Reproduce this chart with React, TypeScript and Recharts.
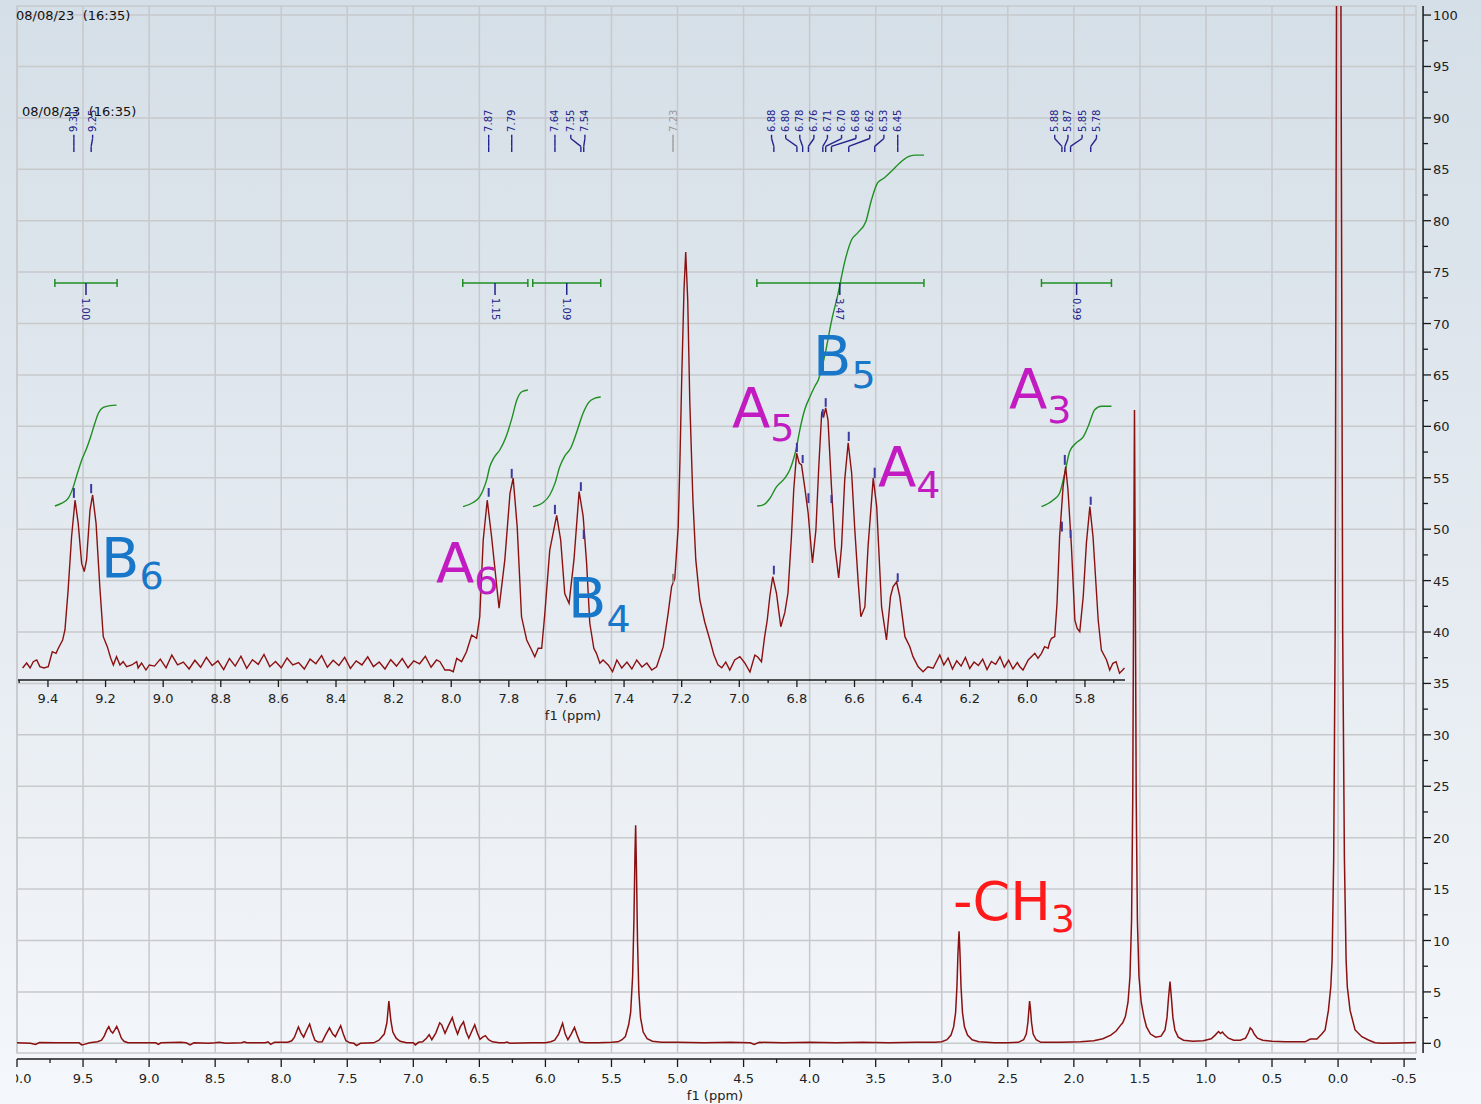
import React from "react";
import {
  ComposedChart,
  Line,
  XAxis,
  YAxis,
  CartesianGrid,
  ReferenceLine,
  ReferenceDot,
  ReferenceArea,
} from "recharts";

const FONT = "'DejaVu Sans', Verdana, sans-serif";
const RED = "#8b1111";
const NAVY = "#23238c";
const GREEN = "#1f8f23";
const GRID = "#c7c9cb";
const INK = "#1a1a1a";
const MAGENTA = "#c21bc2";
const BLUE = "#1877c9";

// main axis ticks
const mainMajorX = [10, 9.5, 9, 8.5, 8, 7.5, 7, 6.5, 6, 5.5, 5, 4.5, 4, 3.5, 3, 2.5, 2, 1.5, 1, 0.5, 0, -0.5];
const mainMinorX = [9.75, 9.25, 8.75, 8.25, 7.75, 7.25, 6.75, 6.25, 5.75, 5.25, 4.75, 4.25, 3.75, 3.25, 2.75, 2.25, 1.75, 1.25, 0.75, 0.25, -0.25];
const mainMajorY = [0, 5, 10, 15, 20, 25, 30, 35, 40, 45, 50, 55, 60, 65, 70, 75, 80, 85, 90, 95, 100];
const mainMinorY = [2.5, 7.5, 12.5, 17.5, 22.5, 27.5, 32.5, 37.5, 42.5, 47.5, 52.5, 57.5, 62.5, 67.5, 72.5, 77.5, 82.5, 87.5, 92.5, 97.5];

// inset axis ticks
const insetMajorX = [9.4, 9.2, 9.0, 8.8, 8.6, 8.4, 8.2, 8.0, 7.8, 7.6, 7.4, 7.2, 7.0, 6.8, 6.6, 6.4, 6.2, 6.0, 5.8];
const insetMinorX = [9.5, 9.3, 9.1, 8.9, 8.7, 8.5, 8.3, 8.1, 7.9, 7.7, 7.5, 7.3, 7.1, 6.9, 6.7, 6.5, 6.3, 6.1, 5.9, 5.7];

// full spectrum: [ppm, intensity]
const mainSpectrum: [number, number][] = [
  [10.0, 0.05], [9.9, 0.0], [9.86, -0.1], [9.83, 0.08], [9.7, 0.05], [9.6, 0.05], [9.53, 0.05], [9.51, -0.15],
  [9.49, -0.1], [9.45, 0.05], [9.39, 0.15], [9.36, 0.3], [9.34, 0.7], [9.32, 1.3], [9.305, 1.62], [9.29, 1.2],
  [9.275, 1.0], [9.26, 1.3], [9.245, 1.65], [9.23, 1.2], [9.21, 0.5], [9.19, 0.2], [9.16, 0.05], [9.05, 0.05],
  [8.95, 0.05], [8.93, -0.1], [8.91, 0.05], [8.76, 0.1], [8.72, 0.05], [8.69, -0.15], [8.66, 0.05], [8.55, 0.0],
  [8.5, 0.05], [8.47, 0.1], [8.42, 0.0], [8.3, 0.05], [8.28, 0.15], [8.26, 0.05], [8.12, 0.05], [8.1, 0.15],
  [8.08, -0.1], [8.05, 0.1], [7.95, 0.1], [7.92, 0.25], [7.9, 0.6], [7.87, 1.6], [7.85, 1.0], [7.83, 0.6],
  [7.81, 1.2], [7.785, 1.88], [7.765, 1.0], [7.745, 0.3], [7.72, 0.12], [7.69, 0.15], [7.665, 0.8], [7.635, 1.5],
  [7.61, 0.9], [7.59, 0.65], [7.57, 1.2], [7.55, 1.72], [7.53, 0.9], [7.51, 0.25], [7.48, 0.05], [7.45, 0.0],
  [7.43, -0.22], [7.4, 0.0], [7.3, 0.05], [7.26, 0.3], [7.22, 0.9], [7.2, 2.0], [7.185, 4.1], [7.17, 2.2],
  [7.155, 1.1], [7.13, 0.5], [7.1, 0.2], [7.05, 0.05], [7.0, 0.05], [6.985, -0.15], [6.96, 0.1], [6.93, 0.15],
  [6.9, 0.5], [6.88, 0.85], [6.86, 0.35], [6.83, 1.0], [6.8, 2.0], [6.785, 1.8], [6.76, 0.97], [6.735, 1.7],
  [6.705, 2.5], [6.685, 1.6], [6.665, 0.9], [6.645, 1.6], [6.62, 2.1], [6.6, 1.1], [6.58, 0.5], [6.56, 1.1],
  [6.535, 1.8], [6.515, 1.0], [6.495, 0.4], [6.475, 0.6], [6.455, 0.75], [6.43, 0.35], [6.4, 0.15], [6.35, 0.05],
  [6.31, 0.05], [6.29, 0.12], [6.27, 0.0], [6.1, 0.05], [6.0, 0.05], [5.96, 0.15], [5.93, 0.3], [5.9, 0.9],
  [5.87, 1.95], [5.85, 0.9], [5.83, 0.35], [5.805, 0.9], [5.78, 1.55], [5.76, 0.8], [5.74, 0.15], [5.7, 0.05],
  [5.6, 0.05], [5.5, 0.1], [5.45, 0.15], [5.42, 0.35], [5.395, 0.65], [5.37, 1.8], [5.355, 3.0], [5.34, 6.5],
  [5.33, 12.0], [5.322, 18.5], [5.317, 21.2], [5.311, 17.0], [5.303, 10.0], [5.293, 5.0], [5.28, 2.5], [5.26, 1.1],
  [5.23, 0.45], [5.19, 0.2], [5.12, 0.1], [5.0, 0.1], [4.8, 0.05], [4.6, 0.1], [4.45, 0.05], [4.42, -0.1],
  [4.38, 0.1], [4.2, 0.05], [4.0, 0.1], [3.8, 0.05], [3.6, 0.1], [3.4, 0.05], [3.2, 0.1], [3.05, 0.1],
  [3.0, 0.15], [2.96, 0.35], [2.93, 0.8], [2.91, 1.6], [2.895, 3.0], [2.885, 5.5], [2.877, 8.8], [2.869, 10.9],
  [2.862, 8.8], [2.854, 5.5], [2.843, 3.0], [2.828, 1.6], [2.805, 0.8], [2.77, 0.35], [2.72, 0.15], [2.6, 0.05],
  [2.5, 0.05], [2.42, 0.1], [2.38, 0.35], [2.36, 0.9], [2.348, 2.0], [2.34, 3.3], [2.335, 4.1], [2.328, 3.3],
  [2.32, 2.0], [2.308, 0.9], [2.285, 0.35], [2.25, 0.1], [2.1, 0.1], [1.95, 0.15], [1.85, 0.25], [1.78, 0.45],
  [1.72, 0.8], [1.68, 1.2], [1.65, 1.7], [1.63, 2.0], [1.61, 2.6], [1.59, 4.0], [1.575, 6.5], [1.563, 12],
  [1.554, 24], [1.547, 45], [1.541, 61.6], [1.535, 45], [1.528, 24], [1.519, 12], [1.507, 6.5], [1.49, 4.0],
  [1.47, 2.6], [1.45, 1.6], [1.42, 0.9], [1.38, 0.6], [1.34, 0.7], [1.31, 1.3], [1.295, 2.5], [1.283, 4.5],
  [1.272, 6.0], [1.262, 4.5], [1.25, 2.5], [1.235, 1.3], [1.21, 0.6], [1.17, 0.3], [1.1, 0.2], [1.02, 0.25],
  [0.96, 0.45], [0.93, 0.8], [0.905, 1.15], [0.89, 0.95], [0.875, 1.1], [0.86, 0.85], [0.83, 0.5], [0.79, 0.3],
  [0.74, 0.3], [0.7, 0.5], [0.68, 1.0], [0.665, 1.5], [0.65, 1.3], [0.635, 0.9], [0.61, 0.5], [0.57, 0.3],
  [0.5, 0.2], [0.4, 0.15], [0.3, 0.15], [0.25, 0.15], [0.21, 0.42], [0.16, 0.42], [0.123, 0.9], [0.098, 1.3],
  [0.073, 3.2], [0.055, 5.5], [0.045, 8.1], [0.033, 18], [0.022, 40], [0.012, 100], [-0.005, 400], [-0.022, 100],
  [-0.035, 40], [-0.048, 18], [-0.061, 8.1], [-0.07, 5.5], [-0.091, 3.2], [-0.129, 1.3], [-0.18, 0.64], [-0.23, 0.32],
  [-0.28, 0.06], [-0.33, 0.0], [-0.45, 0.03], [-0.59, 0.08],
];

// expanded aromatic region: [ppm, intensity]
const insetSpectrum: [number, number][] = [
  [9.488, 2.07], [9.474, 2.93], [9.462, 2.07], [9.451, 3.16], [9.439, 3.45], [9.428, 2.3], [9.414, 2.07], [9.399, 2.3],
  [9.385, 4.88], [9.372, 4.6], [9.364, 5.47], [9.349, 6.9], [9.341, 8.62], [9.33, 15.5], [9.318, 24.7], [9.306, 31.0],
  [9.295, 27.0], [9.283, 20.1], [9.274, 18.7], [9.266, 20.7], [9.254, 29.3], [9.245, 31.9], [9.233, 27.0], [9.22, 16.1],
  [9.208, 7.47], [9.194, 5.75], [9.182, 3.74], [9.173, 2.59], [9.162, 4.02], [9.15, 2.59], [9.139, 3.16], [9.127, 2.3],
  [9.109, 2.59], [9.092, 3.16], [9.087, 2.07], [9.075, 2.93], [9.06, 1.72], [9.048, 2.59],
  [9.03, 2.4], [9.01, 3.6], [8.99, 2.1], [8.97, 4.3], [8.95, 2.6], [8.93, 3.1], [8.91, 1.9], [8.89, 3.4],
  [8.87, 2.2], [8.85, 3.9], [8.83, 2.5], [8.81, 3.3], [8.79, 1.8], [8.77, 3.7], [8.75, 2.4], [8.73, 4.1],
  [8.71, 2.0], [8.69, 3.5], [8.67, 2.7], [8.65, 4.4], [8.63, 2.3], [8.61, 3.2], [8.59, 2.1], [8.57, 3.8],
  [8.55, 2.6], [8.53, 3.0], [8.51, 1.9], [8.49, 3.6], [8.47, 2.8], [8.45, 4.2], [8.43, 2.2], [8.41, 3.4],
  [8.39, 2.5], [8.37, 3.9], [8.35, 2.0], [8.33, 3.3], [8.31, 2.6], [8.29, 4.0], [8.27, 2.3], [8.25, 3.1],
  [8.23, 1.9], [8.21, 3.5], [8.19, 2.4], [8.17, 3.7], [8.15, 2.1], [8.13, 3.3], [8.11, 2.8], [8.09, 4.1],
  [8.07, 2.2], [8.051, 3.45], [8.039, 3.16], [8.022, 1.72], [8.005, 1.72], [7.993, 1.43], [7.981, 3.74], [7.964, 3.16],
  [7.947, 4.88], [7.929, 7.76], [7.912, 7.19], [7.901, 10.9], [7.889, 24.1], [7.875, 31.0], [7.86, 24.7], [7.834, 12.4],
  [7.814, 20.7], [7.796, 32.2], [7.785, 34.8], [7.771, 26.4], [7.756, 10.9], [7.738, 6.9], [7.724, 5.47], [7.71, 4.02],
  [7.698, 5.47], [7.686, 5.47], [7.675, 11.5], [7.658, 22.4], [7.634, 28.4], [7.62, 24.1], [7.606, 14.9], [7.591, 13.2],
  [7.574, 20.7], [7.556, 32.5], [7.542, 28.2], [7.53, 20.1], [7.519, 9.78], [7.505, 5.47], [7.496, 4.6], [7.484, 2.88],
  [7.473, 3.45], [7.455, 2.59], [7.44, 1.43], [7.425, 3.45], [7.408, 2.07], [7.39, 3.1], [7.373, 1.9], [7.356, 3.45],
  [7.338, 2.24], [7.321, 2.93], [7.304, 1.72], [7.287, 2.29], [7.264, 5.74], [7.247, 11.5], [7.235, 16.1], [7.224, 17.5],
  [7.212, 26.4], [7.206, 37.9], [7.2, 51.7], [7.192, 67.2], [7.186, 73.8], [7.179, 65.5], [7.172, 48.3], [7.161, 31.0],
  [7.151, 20.7], [7.137, 13.8], [7.12, 10.0], [7.102, 6.9], [7.088, 4.3], [7.074, 2.6], [7.061, 2.1], [7.047, 3.1],
  [7.033, 1.7], [7.016, 3.45], [6.998, 4.02], [6.981, 2.93], [6.963, 1.38], [6.946, 4.31], [6.936, 3.97], [6.923, 3.16],
  [6.912, 7.47], [6.903, 10.3], [6.894, 14.4], [6.884, 17.8], [6.871, 15.0], [6.856, 9.19], [6.842, 11.6], [6.831, 15.0],
  [6.819, 24.7], [6.811, 32.8], [6.801, 39.1], [6.792, 37.4], [6.784, 37.1], [6.773, 33.3], [6.761, 28.8], [6.746, 20.2],
  [6.734, 25.9], [6.724, 36.8], [6.714, 46.0], [6.707, 45.4], [6.7, 46.9], [6.692, 44.8], [6.68, 33.3], [6.668, 23.0],
  [6.655, 17.6], [6.645, 23.0], [6.634, 34.5], [6.622, 40.9], [6.61, 35.7], [6.599, 25.9], [6.587, 16.7], [6.578, 10.9],
  [6.564, 12.6], [6.553, 23.0], [6.535, 34.8], [6.523, 29.9], [6.506, 12.6], [6.489, 6.9], [6.475, 14.4], [6.466, 16.1],
  [6.454, 16.9], [6.443, 14.4], [6.425, 7.47], [6.408, 5.74], [6.397, 4.02], [6.379, 2.29], [6.362, 1.43], [6.345, 2.29],
  [6.327, 2.02], [6.304, 4.31], [6.29, 2.6], [6.275, 3.8], [6.26, 1.9], [6.245, 3.3], [6.23, 2.4], [6.215, 3.9],
  [6.2, 2.0], [6.185, 3.1], [6.17, 2.5], [6.155, 3.6], [6.14, 1.8], [6.125, 3.2], [6.11, 2.7], [6.095, 4.0],
  [6.08, 2.2], [6.065, 3.4], [6.05, 1.9], [6.035, 3.0], [6.026, 2.29], [6.015, 1.72], [5.997, 3.45], [5.974, 4.6],
  [5.963, 3.74], [5.951, 4.6], [5.94, 5.74], [5.928, 5.47], [5.922, 6.6], [5.916, 7.19], [5.905, 7.47], [5.897, 13.2],
  [5.888, 24.7], [5.876, 33.3], [5.867, 36.8], [5.859, 32.8], [5.847, 23.0], [5.835, 10.3], [5.827, 8.91], [5.818, 8.33],
  [5.806, 14.4], [5.795, 23.6], [5.783, 29.9], [5.772, 24.7], [5.754, 10.3], [5.743, 5.17], [5.725, 3.45], [5.714, 1.72],
  [5.703, 2.88], [5.692, 3.16], [5.68, 1.16], [5.669, 1.72], [5.663, 2.07],
];

// integral curves in the inset
const integralB6: [number, number][] = [
  [9.376, 30.0], [9.352, 30.5], [9.33, 31.3], [9.312, 33.3], [9.298, 35.6], [9.283, 37.9], [9.266, 39.9],
  [9.252, 41.9], [9.237, 44.3], [9.225, 46.0], [9.208, 47.0], [9.185, 47.3], [9.162, 47.4],
];
const integralA6: [number, number][] = [
  [7.959, 29.9], [7.924, 30.6], [7.901, 31.6], [7.889, 32.8], [7.877, 34.5], [7.866, 36.8], [7.852, 38.3],
  [7.831, 39.7], [7.81, 41.9], [7.789, 45.2], [7.772, 48.3], [7.755, 49.7], [7.734, 50.0],
];
const integralB4: [number, number][] = [
  [7.716, 29.9], [7.681, 30.6], [7.658, 31.9], [7.64, 33.9], [7.623, 36.8], [7.606, 38.6], [7.585, 40.0],
  [7.564, 42.8], [7.543, 45.9], [7.522, 47.9], [7.501, 48.6], [7.481, 48.8],
];
const integralMulti: [number, number][] = [
  [6.938, 30.0], [6.917, 30.2], [6.894, 31.3], [6.871, 33.3], [6.842, 34.8], [6.825, 36.2], [6.813, 37.9],
  [6.801, 40.2], [6.79, 43.1], [6.773, 46.6], [6.755, 48.8], [6.738, 50.6], [6.726, 51.7], [6.703, 56.0],
  [6.679, 62.1], [6.658, 66.4], [6.634, 72.1], [6.61, 75.9], [6.589, 77.1], [6.561, 79.0], [6.541, 82.8],
  [6.52, 85.7], [6.496, 86.6], [6.468, 87.9], [6.444, 89.1], [6.415, 90.2], [6.391, 90.5], [6.359, 90.5],
];
const integralA3: [number, number][] = [
  [5.951, 29.9], [5.911, 31.0], [5.888, 32.2], [5.87, 35.7], [5.853, 39.4], [5.83, 40.9], [5.806, 41.9],
  [5.789, 43.7], [5.766, 46.6], [5.743, 47.2], [5.708, 47.2],
];
const integralCurves = [integralB6, integralA6, integralB4, integralMulti, integralA3];
const integralValues = ["1.00", "1.15", "1.09", "3.47", "0.99"];
const integralFrom = [9.376, 7.96, 7.717, 6.939, 5.951];
const integralTo = [9.16, 7.734, 7.481, 6.359, 5.708];
const integralMid = [9.268, 7.848, 7.599, 6.651, 5.829];

// peak picking labels
const peakLabels = ["9.31", "9.25", "7.87", "7.79", "7.64", "7.55", "7.54", "7.23", "6.88", "6.80", "6.78",
  "6.76", "6.71", "6.70", "6.68", "6.62", "6.53", "6.45", "5.88", "5.87", "5.85", "5.78"];
const peakLabelAt = [9.31, 9.245, 7.87, 7.79, 7.64, 7.585, 7.536, 7.23, 6.888, 6.839, 6.79,
  6.741, 6.694, 6.645, 6.595, 6.547, 6.498, 6.45, 5.905, 5.859, 5.81, 5.76];
const peakMarkTop = [33.1, 33.8, 33.1, 36.4, 30.2, 34.1, 25.9, 18.3, 19.7, 40.9, 38.8,
  32.2, 46.7, 48.6, 31.9, 42.8, 36.6, 18.4, 27.3, 38.8, 25.9, 31.6];
const peakMarkBottom = [31.4, 32.2, 31.6, 34.8, 28.6, 32.6, 24.3, 16.7, 18.2, 39.3, 37.4,
  30.5, 45.3, 47.1, 30.5, 41.2, 34.8, 16.9, 25.6, 37.1, 24.5, 30.2];
const greyPeak = "7.23";

const toPts = (arr: [number, number][]) => arr.map(([x, y]) => ({ x, y }));

function MainXTick(props: any) {
  const { x, y, payload } = props;
  const v = payload.value;
  const major = mainMajorX.includes(v);
  const edge = v === 10;
  return (
    <g>
      {edge && (
        <defs>
          <clipPath id="leftEdgeClip">
            <rect x={x - 1} y={y} width={60} height={50} />
          </clipPath>
        </defs>
      )}
      <line x1={x} x2={x} y1={y + 6} y2={y + (major ? 14 : 10)} stroke={INK} strokeWidth={1.3} />
      {major && (
        <text
          x={x}
          y={y + 30}
          textAnchor="middle"
          fontSize={13}
          fontFamily={FONT}
          fill="#222"
          clipPath={edge ? "url(#leftEdgeClip)" : undefined}
        >
          {v.toFixed(1)}
        </text>
      )}
    </g>
  );
}

function MainYTick(props: any) {
  const { x, y, payload } = props;
  const v = payload.value;
  const major = mainMajorY.includes(v);
  return (
    <g>
      <line x1={x + 7} x2={x + (major ? 15 : 12)} y1={y} y2={y} stroke={INK} strokeWidth={1.3} />
      {major && (
        <text x={x + 17} y={y + 5} textAnchor="start" fontSize={13} fontFamily={FONT} fill="#222">
          {v}
        </text>
      )}
    </g>
  );
}

function InsetXTick(props: any) {
  const { x, y, payload } = props;
  const v = payload.value;
  const major = insetMajorX.includes(v);
  return (
    <g>
      <line x1={x} x2={x} y1={y} y2={y + (major ? 7 : 3)} stroke={INK} strokeWidth={1.3} />
      {major && (
        <text x={x} y={y + 23} textAnchor="middle" fontSize={13} fontFamily={FONT} fill="#222">
          {v.toFixed(1)}
        </text>
      )}
    </g>
  );
}

// big coloured assignment label with a subscript, as one text element
function Note(props: { x: number; y: number; text: string; sub: string; dy: number; size?: number; color: string }) {
  const { x, y, text, sub, dy, size = 56, color } = props;
  return (
    <text x={x} y={y} fill={color} fontFamily={FONT} fontSize={size}>
      {text}
      <tspan dy={dy} fontSize={38}>
        {sub}
      </tspan>
    </text>
  );
}

export default function App() {
  const mainTicksX = [...mainMajorX, ...mainMinorX].sort((a, b) => b - a);
  const mainTicksY = [...mainMajorY, ...mainMinorY].sort((a, b) => a - b);
  const insetTicksX = [...insetMajorX, ...insetMinorX].sort((a, b) => b - a);

  // leader line levels (inset intensity units)
  const LT = 94.0, K1 = 93.36, K2 = 92.0, LB = 91.03, TXT = 94.5;
  const BR = 68.45;

  return (
    <div
      style={{
        position: "absolute",
        left: 0,
        top: 0,
        width: 1481,
        height: 1104,
        overflow: "hidden",
        background: "linear-gradient(to bottom, #d5dfe7 0%, #e4eaf0 50%, #f4f7fb 100%)",
      }}
    >
      <div style={{ position: "absolute", left: 0, top: 0 }}>
        <ComposedChart width={1481} height={1104} margin={{ top: 6, right: 0, left: 17, bottom: 0 }}>
          <CartesianGrid
            stroke={GRID}
            strokeWidth={1.5}
            verticalValues={mainMajorX}
            horizontalValues={mainMajorY}
          />
          <ReferenceArea
            x1={-0.59}
            x2={10}
            y1={-0.94}
            y2={100.88}
            fill="none"
            stroke={GRID}
            strokeWidth={1.5}
            ifOverflow="visible"
          />
          <XAxis
            type="number"
            dataKey="x"
            domain={[-0.59, 10]}
            reversed
            allowDataOverflow
            ticks={mainTicksX}
            interval={0}
            height={51}
            tickSize={0}
            tickMargin={0}
            tickLine={false}
            axisLine={false}
            tick={(p: any) => <MainXTick {...p} />}
          />
          <YAxis
            type="number"
            orientation="right"
            domain={[-0.94, 100.88]}
            allowDataOverflow
            ticks={mainTicksY}
            interval={0}
            width={65}
            tickSize={0}
            tickMargin={0}
            tickLine={false}
            axisLine={false}
            tick={(p: any) => <MainYTick {...p} />}
          />
          <ReferenceLine
            segment={[{ x: 10, y: -1.527 }, { x: -0.59, y: -1.527 }]}
            stroke={INK}
            strokeWidth={1.5}
            ifOverflow="visible"
          />
          <ReferenceLine
            segment={[{ x: -0.6435, y: 100.88 }, { x: -0.6435, y: -0.94 }]}
            stroke={INK}
            strokeWidth={1.5}
            ifOverflow="visible"
          />
          <Line
            data={toPts(mainSpectrum)}
            dataKey="y"
            type="linear"
            stroke={RED}
            strokeWidth={1.5}
            dot={false}
            activeDot={false}
            isAnimationActive={false}
          />
        </ComposedChart>
      </div>

      <div style={{ position: "absolute", left: 0, top: 0 }}>
        <ComposedChart width={1140} height={730} margin={{ top: 100, right: 15, left: 18, bottom: 0 }}>
          <XAxis
            type="number"
            dataKey="x"
            domain={[5.661, 9.504]}
            reversed
            allowDataOverflow
            ticks={insetTicksX}
            interval={0}
            height={50}
            tickSize={0}
            tickMargin={0}
            tickLine={false}
            axisLine={{ stroke: INK, strokeWidth: 1.5 }}
            tick={(p: any) => <InsetXTick {...p} />}
          />
          <YAxis type="number" domain={[0, 100]} hide allowDataOverflow />

          {integralCurves.map((c, i) => (
            <Line
              key={"int" + i}
              data={toPts(c)}
              dataKey="y"
              type="monotone"
              stroke={GREEN}
              strokeWidth={1.4}
              dot={false}
              activeDot={false}
              isAnimationActive={false}
            />
          ))}

          <Line
            data={toPts(insetSpectrum)}
            dataKey="y"
            type="linear"
            stroke={RED}
            strokeWidth={1.4}
            dot={false}
            activeDot={false}
            isAnimationActive={false}
          />

          {/* integral brackets */}
          {integralValues.map((val, i) => (
            <React.Fragment key={"br" + i}>
              <ReferenceLine segment={[{ x: integralFrom[i], y: BR }, { x: integralTo[i], y: BR }]} stroke={GREEN} strokeWidth={1.5} />
              <ReferenceLine segment={[{ x: integralFrom[i], y: BR + 0.7 }, { x: integralFrom[i], y: BR - 0.7 }]} stroke={GREEN} strokeWidth={1.5} />
              <ReferenceLine segment={[{ x: integralTo[i], y: BR + 0.7 }, { x: integralTo[i], y: BR - 0.7 }]} stroke={GREEN} strokeWidth={1.5} />
              <ReferenceLine segment={[{ x: integralMid[i], y: BR }, { x: integralMid[i], y: 66.4 }]} stroke={NAVY} strokeWidth={1.5} />
              <ReferenceDot
                x={integralMid[i]}
                y={65.86}
                r={0}
                shape={(p: any) => (
                  <text
                    x={p.cx}
                    y={p.cy}
                    transform={`rotate(90 ${p.cx} ${p.cy})`}
                    textAnchor="start"
                    dominantBaseline="central"
                    fontSize={10}
                    fontFamily={FONT}
                    fill={NAVY}
                  >
                    {val}
                  </text>
                )}
              />
            </React.Fragment>
          ))}

          {/* peak labels with leader lines and marks */}
          {peakLabels.map((lab, i) => {
            const px = Number(lab);
            const at = peakLabelAt[i];
            const col = lab === greyPeak ? "#9a9a9a" : NAVY;
            return (
              <React.Fragment key={"pk" + i}>
                <ReferenceLine segment={[{ x: at, y: LT }, { x: at, y: K1 }]} stroke={col} strokeWidth={1.4} />
                <ReferenceLine segment={[{ x: at, y: K1 }, { x: px, y: K2 }]} stroke={col} strokeWidth={1.4} />
                <ReferenceLine segment={[{ x: px, y: K2 }, { x: px, y: LB }]} stroke={col} strokeWidth={1.4} />
                <ReferenceLine
                  segment={[{ x: px, y: peakMarkBottom[i] }, { x: px, y: peakMarkTop[i] }]}
                  stroke={lab === greyPeak ? "#8a8a8a" : "#3a3aa0"}
                  strokeWidth={2}
                />
                <ReferenceDot
                  x={at}
                  y={TXT}
                  r={0}
                  shape={(p: any) => (
                    <text
                      x={p.cx}
                      y={p.cy}
                      transform={`rotate(-90 ${p.cx} ${p.cy})`}
                      textAnchor="start"
                      dominantBaseline="central"
                      fontSize={10}
                      fontFamily={FONT}
                      fill={col}
                    >
                      {lab}
                    </text>
                  )}
                />
              </React.Fragment>
            );
          })}
        </ComposedChart>
      </div>

      <svg
        width={1481}
        height={1104}
        style={{ position: "absolute", left: 0, top: 0, pointerEvents: "none" }}
      >
        <text x={16} y={20} fontSize={13} fontFamily={FONT} fill="#111" style={{ whiteSpace: "pre" }}>
          {"08/08/23  (16:35)"}
        </text>
        <text x={22} y={116} fontSize={13} fontFamily={FONT} fill="#111" style={{ whiteSpace: "pre" }}>
          {"08/08/23  (16:35)"}
        </text>
        <text x={573} y={720} textAnchor="middle" fontSize={13} fontFamily={FONT} fill="#222">
          f1 (ppm)
        </text>
        <text x={715} y={1100} textAnchor="middle" fontSize={13} fontFamily={FONT} fill="#222">
          f1 (ppm)
        </text>

        <Note x={101} y={577} text="B" sub="6" dy={12} color={BLUE} />
        <Note x={436} y={582} text="A" sub="6" dy={12} color={MAGENTA} />
        <Note x={568} y={617} text="B" sub="4" dy={15} color={BLUE} />
        <Note x={732} y={427} text="A" sub="5" dy={14} color={MAGENTA} />
        <Note x={813} y={375} text="B" sub="5" dy={13} color={BLUE} />
        <Note x={878} y={486} text="A" sub="4" dy={12} color={MAGENTA} />
        <Note x={1009} y={408} text="A" sub="3" dy={15} color={MAGENTA} />
        <Note x={953} y={920} text="-CH" sub="3" dy={12} size={54} color="#fe1a1a" />
      </svg>
    </div>
  );
}
